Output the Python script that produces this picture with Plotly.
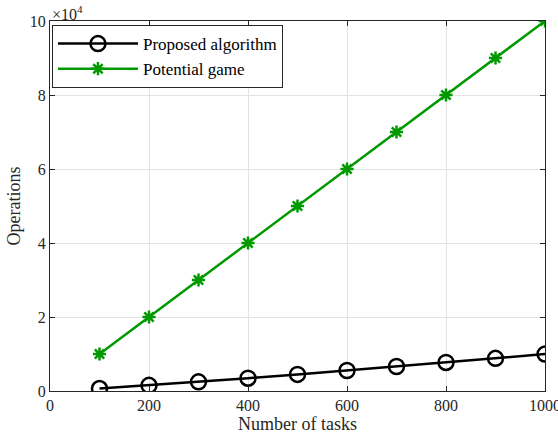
import plotly.graph_objects as go

tasks = [100, 200, 300, 400, 500, 600, 700, 800, 900, 1000]
proposed_ops = [660, 1530, 2470, 3460, 4480, 5540, 6620, 7720, 8830, 9970]
potential_ops = [10000, 20000, 30000, 40000, 50000, 60000, 70000, 80000, 90000, 100000]
x_ticks = [0, 200, 400, 600, 800, 1000]
y_ticks = [0, 20000, 40000, 60000, 80000, 100000]
y_tick_labels = ["0", "2", "4", "6", "8", "10"]

FONT = "Liberation Serif, DejaVu Serif, serif"
AX = "#262626"

fig = go.Figure()
fig.add_trace(go.Scatter(
    x=tasks, y=proposed_ops, mode="lines+markers", name="Proposed algorithm",
    line=dict(color="black", width=2.5),
    marker=dict(symbol="circle-open", size=15, color="black", line=dict(width=2.5)),
))
fig.add_trace(go.Scatter(
    x=tasks, y=potential_ops, mode="lines+markers", name="Potential game",
    line=dict(color="#009900", width=2.5),
    marker=dict(symbol="asterisk-open", size=11, color="#009900", line=dict(width=2.5, color="#009900")),
))

axis_common = dict(
    showline=True, linecolor=AX, linewidth=1, mirror="allticks",
    ticks="inside", ticklen=5, tickcolor=AX,
    showgrid=True, gridcolor="#e3e3e3", gridwidth=1, zeroline=False,
    tickfont=dict(family=FONT, size=16, color=AX),
    automargin=False, ticklabeloverflow="allow",
)
fig.update_xaxes(range=[0, 1000], tickvals=x_ticks, **axis_common,
                 title=dict(text="Number of tasks", font=dict(family=FONT, size=18, color=AX), standoff=2))
fig.update_yaxes(range=[0, 100000], tickvals=y_ticks, ticktext=y_tick_labels, **axis_common,
                 title=dict(text="Operations", font=dict(family=FONT, size=18, color=AX), standoff=4))

fig.add_annotation(xref="paper", yref="paper", x=0, y=1, xanchor="left", yanchor="bottom",
                   text="×10<sup>4</sup>", showarrow=False, yshift=-4,
                   font=dict(family=FONT, size=16, color=AX))

fig.update_layout(
    width=558, height=436,
    margin=dict(l=50, r=13, t=21, b=45),
    plot_bgcolor="white", paper_bgcolor="white",
    showlegend=True,
    legend=dict(x=0.004, y=0.989, xanchor="left", yanchor="top",
                bgcolor="white", bordercolor=AX, borderwidth=1,
                font=dict(family=FONT, size=17, color="black"),
                itemwidth=80, tracegroupgap=0),
)

# remove the page's default 8px body margin so the figure sits at (0, 0)
fig.write_html("out.html", config={"displayModeBar": False},
               post_script="document.body.style.margin='0';")
